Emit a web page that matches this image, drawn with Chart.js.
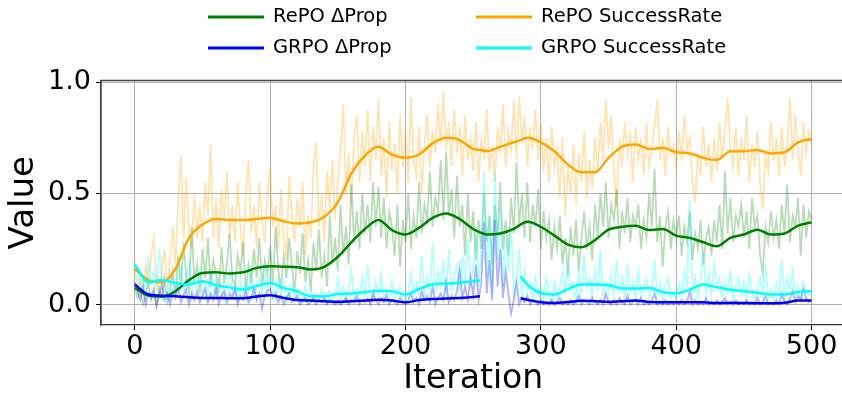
<!DOCTYPE html>
<html><head><meta charset="utf-8">
<script src="https://cdn.jsdelivr.net/npm/chart.js@4.4.1/dist/chart.umd.min.js"></script>
<style>
html,body{margin:0;padding:0;overflow:hidden;background:#fff;width:842px;height:394px}
#wrap{position:absolute;left:0;top:0;width:850px;height:394px}
</style>
</head><body>
<div id="wrap"><canvas id="c" width="850" height="394"></canvas></div>
<script>
// ---- data ----
const seriesLabels = ['RePO \u0394Prop', 'GRPO \u0394Prop', 'RePO SuccessRate', 'GRPO SuccessRate'];
const xTicks = [0, 100, 200, 300, 400, 500];
const yTicks = [0, 0.5, 1.0];
const yTickLabels = ['0.0', '0.5', '1.0'];

const rawIter = [];
for (let i = 0; i <= 500; i += 2) rawIter.push(i);

const repoSuccessRaw = [
0.16,0.08,0.12,0.05,0.18,0.10,0.22,0.30,0.12,0.05,0.15,0.25,0.08,0.20,0.35,0.18,0.45,0.67,0.30,0.57,0.35,0.25,0.50,0.30,0.45,
0.28,0.55,0.40,0.72,0.30,0.48,0.25,0.52,0.38,0.60,0.30,0.45,0.28,0.55,0.35,0.22,0.50,0.65,0.32,0.45,0.25,0.55,0.38,0.28,0.50,
0.62,0.35,0.45,0.25,0.52,0.30,0.20,0.58,0.40,0.28,0.48,0.35,0.55,0.22,0.40,0.30,0.62,0.73,0.35,0.50,0.28,0.60,0.42,0.65,0.38,
0.55,0.70,0.90,0.50,0.68,0.45,0.75,0.85,0.55,0.78,0.62,0.88,0.55,0.80,0.65,0.92,0.58,0.75,0.48,0.82,0.60,0.72,0.50,0.85,0.62,
0.78,0.55,0.93,0.65,0.58,0.80,0.50,0.72,0.85,0.62,0.78,0.68,0.90,0.72,0.96,0.70,0.82,0.62,0.88,0.68,0.80,0.58,0.85,0.65,0.75,
0.60,0.82,0.55,0.75,0.65,0.88,0.60,0.72,0.55,0.80,0.68,0.90,0.62,0.78,0.70,0.92,0.65,0.94,0.72,0.85,0.62,0.80,0.70,0.88,0.65,
0.82,0.60,0.75,0.55,0.80,0.62,0.70,0.48,0.75,0.40,0.62,0.50,0.72,0.45,0.68,0.55,0.78,0.48,0.65,0.52,0.75,0.60,0.82,0.65,0.92,
0.70,0.85,0.60,0.44,0.75,0.62,0.82,0.68,0.78,0.55,0.80,0.65,0.75,0.58,0.82,0.62,0.70,0.80,0.92,0.65,0.75,0.58,0.80,0.68,0.72,
0.60,0.78,0.65,0.85,0.70,0.75,0.55,0.46,0.68,0.58,0.80,0.62,0.72,0.55,0.75,0.60,0.82,0.65,0.78,0.93,0.70,0.62,0.80,0.58,0.75,
0.65,0.85,0.55,0.72,0.62,0.78,0.55,0.43,0.68,0.60,0.82,0.65,0.75,0.58,0.80,0.62,0.72,0.93,0.65,0.85,0.70,0.58,0.82,0.68,0.78,
0.72];

const repoPropRaw = [
0.08,0.03,0.06,0.00,0.04,0.10,0.02,0.05,0.00,0.07,0.03,0.12,0.01,0.06,0.15,0.04,0.22,0.08,0.28,0.12,0.06,0.35,0.10,0.18,0.05,
0.25,0.12,0.30,0.08,0.20,0.14,0.05,0.26,0.10,0.18,0.32,0.12,0.08,0.22,0.15,0.28,0.06,0.18,0.10,0.25,0.12,0.30,0.08,0.20,0.14,
0.26,0.10,0.35,0.15,0.08,0.22,0.12,0.30,0.18,0.05,0.24,0.14,0.32,0.10,0.20,0.06,0.28,0.15,0.34,0.12,0.22,0.08,0.40,0.18,0.30,
0.15,0.45,0.22,0.35,0.18,0.54,0.28,0.42,0.25,0.50,0.32,0.45,0.28,0.55,0.35,0.53,0.30,0.48,0.25,0.42,0.35,0.22,0.45,0.17,0.38,
0.28,0.50,0.25,0.40,0.30,0.55,0.32,0.45,0.38,0.60,0.35,0.48,0.42,0.65,0.38,0.69,0.40,0.52,0.30,0.58,0.35,0.45,0.22,0.50,0.28,
0.42,0.20,0.38,0.25,0.50,0.28,0.40,0.18,0.45,0.30,0.55,0.25,0.38,0.22,0.48,0.32,0.64,0.35,0.50,0.30,0.55,0.28,0.45,0.35,0.52,
0.25,0.42,0.30,0.38,0.20,0.35,0.25,0.40,0.18,0.30,0.13,0.35,0.22,0.38,0.15,0.30,0.42,0.25,0.35,0.20,0.45,0.30,0.50,0.35,0.55,
0.30,0.45,0.38,0.52,0.25,0.42,0.32,0.48,0.28,0.40,0.35,0.45,0.25,0.38,0.30,0.50,0.35,0.61,0.28,0.40,0.17,0.35,0.42,0.25,0.38,
0.30,0.40,0.22,0.35,0.28,0.42,0.20,0.32,0.25,0.38,0.18,0.30,0.35,0.22,0.38,0.28,0.45,0.25,0.60,0.32,0.48,0.28,0.40,0.35,0.45,
0.30,0.42,0.25,0.48,0.35,0.40,0.22,0.14,0.35,0.28,0.42,0.30,0.38,0.25,0.45,0.32,0.54,0.28,0.40,0.35,0.48,0.22,0.45,0.30,0.42,
0.38];

const grpoSuccessRaw = [
0.18,0.15,0.08,0.12,0.05,0.20,0.10,0.15,0.06,0.25,0.12,0.08,0.02,0.15,0.10,0.05,0.12,0.18,0.06,0.10,0.20,0.04,0.12,0.08,0.15,
0.05,0.10,0.02,0.14,0.08,0.04,0.12,0.06,0.01,0.10,0.15,0.05,0.08,0.02,0.12,0.04,0.10,0.06,0.16,0.03,0.08,0.12,0.04,0.18,0.06,
0.14,0.08,0.02,0.12,0.05,0.10,0.01,0.06,0.09,0.02,0.07,0.04,0.01,0.08,0.03,0.06,0.01,0.05,0.02,0.07,0.03,0.01,0.06,0.02,0.04,
0.12,0.03,0.08,0.01,0.05,0.15,0.02,0.07,0.04,0.12,0.03,0.18,0.05,0.02,0.10,0.04,0.14,0.02,0.06,0.03,0.11,0.02,0.05,0.08,0.02,
0.01,0.06,0.14,0.03,0.10,0.05,0.22,0.04,0.12,0.06,0.28,0.05,0.15,0.08,0.20,0.04,0.25,0.06,0.12,0.18,0.05,0.22,0.08,0.30,0.10,
0.15,0.35,0.08,0.25,0.60,0.12,0.40,0.05,0.60,0.20,0.45,0.08,0.30,0.15,0.35,0.05,0.12,0.25,0.02,0.15,0.06,0.10,0.02,0.12,0.04,
0.08,0.02,0.12,0.05,0.01,0.10,0.03,0.08,0.15,0.04,0.18,0.06,0.10,0.02,0.14,0.05,0.22,0.08,0.12,0.03,0.16,0.06,0.25,0.04,0.10,
0.05,0.14,0.03,0.20,0.06,0.12,0.02,0.18,0.05,0.10,0.02,0.15,0.04,0.08,0.12,0.03,0.06,0.20,0.04,0.10,0.02,0.08,0.12,0.03,0.06,
0.02,0.10,0.04,0.15,0.08,0.47,0.05,0.12,0.03,0.10,0.24,0.06,0.14,0.04,0.18,0.08,0.12,0.03,0.10,0.05,0.16,0.02,0.08,0.12,0.04,
0.10,0.03,0.14,0.06,0.02,0.08,0.12,0.04,0.18,0.03,0.07,0.02,0.10,0.05,0.20,0.03,0.12,0.06,0.15,0.04,0.08,0.02,0.10,0.06,0.04,
0.05];

const grpoPropRaw = [
0.10,0.06,0.02,0.08,0.00,0.05,0.03,0.07,-0.01,0.04,0.09,0.02,0.05,0.00,0.06,0.03,0.08,0.01,0.04,0.07,0.00,0.05,0.02,0.06,0.01,
0.04,0.07,0.01,0.05,0.02,0.08,0.00,0.04,0.06,0.01,0.05,0.03,0.07,0.00,0.04,0.02,0.06,0.01,0.03,0.08,0.02,0.05,-0.02,0.04,0.06,
0.07,0.03,0.05,0.01,0.04,0.00,0.03,0.05,0.01,0.02,0.04,0.00,0.02,0.03,0.00,0.01,0.03,0.00,0.02,0.01,0.03,0.00,0.02,0.01,0.00,
0.02,0.00,0.01,0.03,0.00,0.02,0.01,0.04,0.00,0.02,0.01,0.03,0.00,0.05,0.02,0.00,0.03,0.01,0.04,0.00,0.02,0.01,0.00,0.03,0.01,
0.00,0.02,0.05,0.01,0.03,0.00,0.06,0.02,0.04,0.01,0.08,0.00,0.03,0.05,0.02,0.10,0.01,0.04,0.02,0.06,0.16,0.03,0.08,0.02,0.12,
0.04,0.18,0.02,0.10,0.37,0.05,0.20,0.02,0.38,0.08,0.25,0.03,0.15,0.05,-0.04,0.02,0.10,0.00,0.03,0.01,0.04,0.00,0.02,0.01,0.00,
0.02,0.00,0.01,0.00,0.02,0.00,0.01,0.03,0.00,0.01,0.00,0.02,0.00,0.01,0.04,0.00,0.02,0.01,0.00,0.03,0.01,0.00,0.02,0.00,0.05,
0.01,0.00,0.02,0.00,0.03,0.01,0.00,0.04,0.00,0.01,0.02,0.00,0.03,0.00,0.01,0.00,0.02,0.05,0.00,0.01,0.00,0.02,0.00,0.01,0.00,
0.01,0.00,0.02,0.00,0.01,0.06,0.00,0.02,0.00,0.01,0.00,0.03,0.00,0.01,0.00,0.02,0.00,0.01,0.03,0.00,0.01,0.00,0.02,0.00,0.01,
0.00,0.02,0.00,0.01,0.00,0.03,0.00,0.01,0.04,0.00,0.01,0.00,0.02,0.00,0.05,0.01,0.00,0.03,0.06,0.01,0.04,0.02,0.07,0.03,0.01,
0.02];

const smoothIter = [0,10,20,30,40,50,60,70,80,90,100,110,120,130,140,150,160,170,180,190,200,210,220,230,240,250,255,
260,270,280,285,290,300,310,320,330,340,350,360,370,380,390,400,410,420,430,440,450,460,470,480,490,500];

const repoSuccessSmooth = [0.16,0.11,0.10,0.16,0.30,0.36,0.385,0.38,0.38,0.385,0.39,0.375,0.365,0.37,0.395,0.46,0.59,0.67,0.71,0.675,
0.66,0.675,0.725,0.75,0.74,0.70,0.695,0.69,0.71,0.73,0.74,0.75,0.73,0.69,0.63,0.595,0.595,0.66,0.71,0.72,
0.70,0.705,0.685,0.68,0.66,0.65,0.69,0.69,0.695,0.68,0.685,0.73,0.745];

const repoPropSmooth = [0.075,0.04,0.035,0.06,0.11,0.142,0.145,0.14,0.145,0.165,0.172,0.17,0.168,0.158,0.17,0.215,0.28,0.34,0.38,0.335,
0.315,0.345,0.39,0.41,0.385,0.34,0.325,0.315,0.32,0.34,0.36,0.372,0.35,0.31,0.27,0.258,0.29,0.337,0.35,0.355,
0.335,0.34,0.31,0.30,0.28,0.262,0.30,0.315,0.337,0.315,0.32,0.355,0.37];

const grpoSuccessSmooth = [0.18,0.10,0.11,0.097,0.09,0.105,0.087,0.077,0.068,0.083,0.097,0.075,0.06,0.037,0.037,0.047,0.05,0.055,0.062,0.06,
0.045,0.07,0.09,0.095,0.098,0.105,0.108,null,null,null,0.127,0.09,0.052,0.045,0.07,0.09,0.09,0.087,0.072,0.072,
0.075,0.055,0.05,0.067,0.09,0.078,0.067,0.06,0.053,0.045,0.045,0.057,0.06];

const grpoPropSmooth = [0.09,0.045,0.04,0.037,0.033,0.03,0.03,0.028,0.028,0.036,0.042,0.03,0.02,0.018,0.015,0.012,0.015,0.018,0.022,0.018,
0.01,0.02,0.025,0.027,0.03,0.034,0.037,null,null,null,0.028,0.022,0.01,0.007,0.011,0.017,0.015,0.012,0.015,0.018,
0.012,0.01,0.01,0.01,0.01,0.007,0.008,0.007,0.006,0.006,0.008,0.018,0.018];

// ---- chart ----
const pts = (xs, ys) => xs.map((x, i) => ({x: x, y: ys[i] === undefined ? null : ys[i]}));
const COLORS = {
  green: 'rgb(0,128,0)', blue: 'rgb(0,0,255)', orange: 'rgb(255,165,0)', cyan: 'rgb(0,255,255)'
};
const FAINT = {
  green: 'rgba(0,128,0,0.28)', blue: 'rgba(0,0,255,0.3)', orange: 'rgba(255,165,0,0.3)', cyan: 'rgba(0,255,255,0.3)'
};
const lineDs = (label, data, color, width, smooth) => ({
  label: label, data: data, borderColor: color, backgroundColor: color, borderWidth: width,
  pointRadius: 0, tension: 0, fill: false, spanGaps: false,
  cubicInterpolationMode: smooth ? 'monotone' : 'default'
});

const datasets = [
  lineDs(seriesLabels[1], pts(smoothIter, grpoPropSmooth), COLORS.blue, 2.5, true),
  lineDs(seriesLabels[3], pts(smoothIter, grpoSuccessSmooth), COLORS.cyan, 2.5, true),
  lineDs(seriesLabels[0], pts(smoothIter, repoPropSmooth), COLORS.green, 2.5, true),
  lineDs(seriesLabels[2], pts(smoothIter, repoSuccessSmooth), COLORS.orange, 2.5, true),
  lineDs('grpoPropRaw', pts(rawIter, grpoPropRaw), FAINT.blue, 1.8, false),
  lineDs('grpoSuccessRaw', pts(rawIter, grpoSuccessRaw), FAINT.cyan, 1.8, false),
  lineDs('repoPropRaw', pts(rawIter, repoPropRaw), FAINT.green, 1.8, false),
  lineDs('repoSuccessRaw', pts(rawIter, repoSuccessRaw), FAINT.orange, 1.8, false)
];

const legendLayout = [
  {label: seriesLabels[0], color: COLORS.green, x: 208, y: 17},
  {label: seriesLabels[1], color: COLORS.blue, x: 208, y: 48},
  {label: seriesLabels[2], color: COLORS.orange, x: 476, y: 17},
  {label: seriesLabels[3], color: COLORS.cyan, x: 476, y: 48}
];

const FONT = '"DejaVu Sans", sans-serif';

const customLegend = {
  id: 'customLegend',
  afterDraw(chart) {
    const ctx = chart.ctx;
    ctx.save();
    ctx.font = '19.5px ' + FONT;
    ctx.textBaseline = 'middle';
    ctx.textAlign = 'left';
    legendLayout.forEach(it => {
      ctx.strokeStyle = it.color;
      ctx.lineWidth = 3;
      ctx.beginPath();
      ctx.moveTo(it.x, it.y);
      ctx.lineTo(it.x + 56, it.y);
      ctx.stroke();
      ctx.fillStyle = '#000';
      ctx.fillText(it.label, it.x + 65, it.y);
    });
    ctx.restore();
  }
};

const frame = {
  id: 'frame',
  afterDraw(chart) {
    const a = chart.chartArea, ctx = chart.ctx;
    ctx.save();
    ctx.strokeStyle = '#444';
    ctx.lineWidth = 1.3;
    ctx.beginPath();
    ctx.moveTo(a.left, a.bottom);
    ctx.lineTo(a.left, a.top);
    ctx.lineTo(a.right, a.top);
    ctx.lineTo(a.right, a.bottom);
    ctx.stroke();
    ctx.restore();
  }
};

new Chart(document.getElementById('c'), {
  type: 'line',
  data: {datasets: datasets},
  plugins: [customLegend, frame],
  options: {
    responsive: false,
    animation: false,
    events: [],
    layout: {padding: {top: 80.5, right: 4.6, bottom: 0, left: 0}},
    plugins: {legend: {display: false}, tooltip: {enabled: false}},
    scales: {
      x: {
        type: 'linear', min: -25, max: 525,
        afterBuildTicks: s => { s.ticks = xTicks.map(v => ({value: v})); },
        afterFit: s => { s.height = 69; },
        ticks: {font: {family: FONT, size: 27}, color: '#000', padding: 1, maxRotation: 0,
                callback: v => String(v)},
        grid: {color: '#b0b0b0', lineWidth: 1, tickLength: 5, tickColor: '#000', drawTicks: true},
        border: {color: '#333', width: 1.3},
        title: {display: true, text: 'Iteration', color: '#000',
                font: {family: FONT, size: 33, lineHeight: 0.9}, padding: {top: 0, bottom: 0}}
      },
      y: {
        min: -0.092, max: 1.008,
        afterBuildTicks: s => { s.ticks = yTicks.map(v => ({value: v})); },
        afterFit: s => { s.width = 101; },
        ticks: {font: {family: FONT, size: 27}, color: '#000', padding: 5,
                callback: (v) => yTickLabels[yTicks.indexOf(v)] ?? ''},
        grid: {color: '#b0b0b0', lineWidth: 1, tickLength: 5, tickColor: '#000', drawTicks: true},
        border: {color: '#333', width: 1.3},
        title: {display: true, text: 'Value', color: '#000',
                font: {family: FONT, size: 34, lineHeight: 1.2}, padding: {top: 3.6, bottom: 0}}
      }
    }
  }
});
</script>
</body></html>
